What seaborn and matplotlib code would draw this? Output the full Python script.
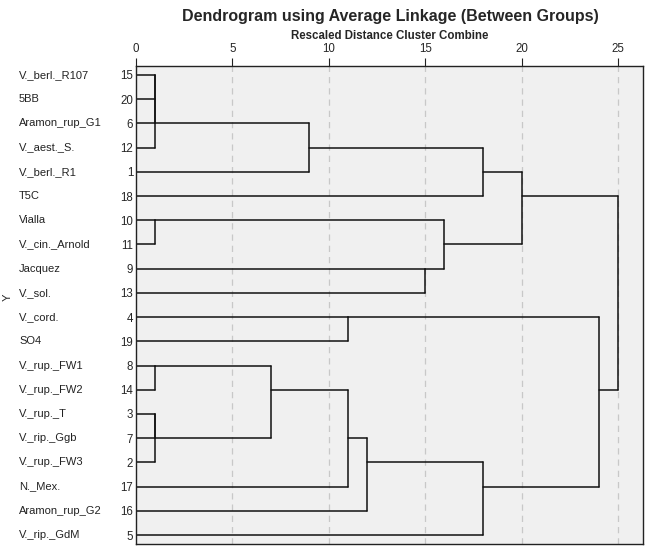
import pandas as pd
import matplotlib
matplotlib.use('Agg')
import matplotlib.pyplot as plt
import seaborn as sns

# Leaves in drawing order (top to bottom) and their case numbers
leaf_names = ['V._berl._R107', '5BB', 'Aramon_rup_G1', 'V._aest._S.', 'V._berl._R1', 'T5C',
              'Vialla', 'V._cin._Arnold', 'Jacquez', 'V._sol.', 'V._cord.', 'SO4',
              'V._rup._FW1', 'V._rup._FW2', 'V._rup._T', 'V._rip._Ggb', 'V._rup._FW3',
              'N._Mex.', 'Aramon_rup_G2', 'V._rip._GdM']
leaf_cases = ['15', '20', '6', '12', '1', '18', '10', '11', '9', '13', '4', '19',
              '8', '14', '3', '7', '2', '17', '16', '5']

# Agglomeration stages: stage name, first child, second child, rescaled distance
stage_names = ['s1', 's2', 's3', 's4', 's5', 's6', 's7', 's8', 's9', 's10',
               's11', 's12', 's13', 's14', 's15', 's16', 's17', 's18', 's19']
child_a = ['15', 's1', 's2', '10', '8', '3', 's6', 's5', 's3', '4',
           's8', 's11', '9', 's4', 's9', 's12', 's15', 's10', 's17']
child_b = ['20', '6', '12', '11', '14', '7', '2', 's7', '1', '19',
           '17', '16', '13', 's13', '18', '5', 's14', 's16', 's18']
merge_dist = [1, 1, 1, 1, 1, 1, 1, 7, 9, 11, 11, 12, 15, 16, 18, 18, 20, 24, 25]

tick_vals = [0, 5, 10, 15, 20, 25]

# Build the line segments of the dendrogram
row = {c: i for i, c in enumerate(leaf_cases)}
height = {c: 0 for c in leaf_cases}
rows_seg = []
seg = 0
for name, a, b, d in zip(stage_names, child_a, child_b, merge_dist):
    for c in (a, b):
        rows_seg.append((seg, height[c], row[c]))
        rows_seg.append((seg, d, row[c]))
        seg += 1
    rows_seg.append((seg, d, row[a]))
    rows_seg.append((seg, d, row[b]))
    seg += 1
    row[name] = (row[a] + row[b]) // 2
    height[name] = d
seg_df = pd.DataFrame(rows_seg, columns=['seg', 'x', 'y'])

sns.set_style('white', {'axes.facecolor': '#F0F0F0', 'axes.edgecolor': '#222222'})
plt.rcParams['font.family'] = ['Liberation Sans', 'DejaVu Sans']

fig = plt.figure(figsize=(6.51, 5.51), dpi=100)
ax = fig.add_axes([136 / 651, 1 - 544 / 551, 507 / 651, 478 / 551])

for t in tick_vals[1:]:
    ax.axvline(t, color='#C8C8C8', lw=0.9, ls=(0, (5, 4)), zorder=0)

sns.lineplot(data=seg_df, x='x', y='y', units='seg', estimator=None, sort=False,
             color='#111111', lw=1.1, ax=ax)

ax.set_xlim(0, 26.3)
ax.set_ylim(19.37, -0.37)
ax.xaxis.tick_top()
ax.set_xticks(tick_vals)
ax.set_xticklabels([str(t) for t in tick_vals], fontsize=8.3)
ax.tick_params(axis='x', direction='out', length=6, width=0.8, pad=2, color='#222222')
ax.set_yticks(range(len(leaf_cases)))
ax.set_yticklabels(leaf_cases, fontsize=8.3)
ax.tick_params(axis='y', length=0, pad=2)
ax.set_xlabel('')
ax.set_ylabel('')
for sp in ax.spines.values():
    sp.set_linewidth(1.0)

ytrans = ax.get_yaxis_transform()
for i, name in enumerate(leaf_names):
    ax.text(-117 / 507, i, name, transform=ytrans, ha='left', va='center', fontsize=8,
            color='#222222')

fig.text(390 / 651, 1 - 17 / 551, 'Dendrogram using Average Linkage (Between Groups)',
         ha='center', va='center', fontsize=11.5, fontweight='bold')
fig.text(390 / 651, 1 - 36 / 551, 'Rescaled Distance Cluster Combine',
         ha='center', va='center', fontsize=8.3, fontweight='bold')
fig.text(8 / 651, 1 - 297 / 551, 'Y', ha='center', va='center', rotation=90, fontsize=8)

fig.savefig('out.png', dpi=100)
